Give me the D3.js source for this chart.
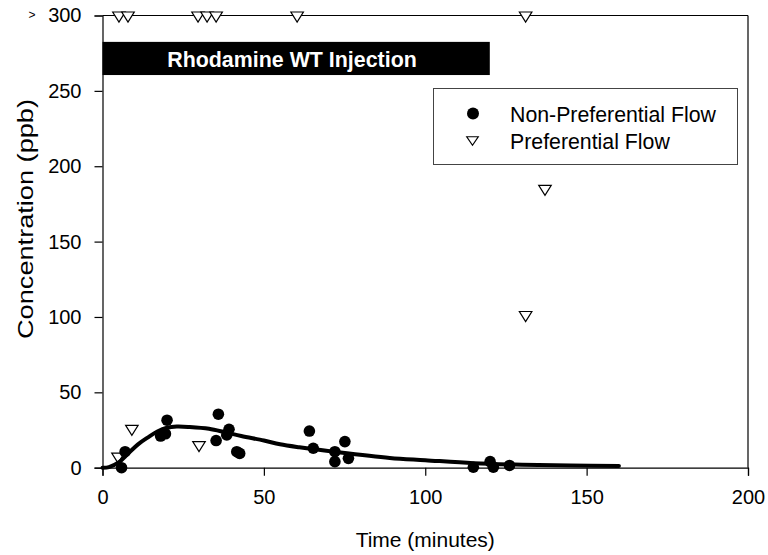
<!DOCTYPE html>
<html>
<head>
<meta charset="utf-8">
<script src="https://cdn.jsdelivr.net/npm/d3@7"></script>
<style>
  html, body { margin: 0; padding: 0; background: #fff; }
  svg { display: block; font-family: "Liberation Sans", Arial, sans-serif; }
</style>
</head>
<body>
<svg id="chart" width="768" height="555"></svg>
<script>
// ---- Data ----
const nonPrefTime = [5.9, 7.0, 18.0, 19.5, 20.0, 35.2, 35.9, 38.5, 39.2, 41.6, 42.5,
                     64.1, 65.3, 72.0, 72.0, 75.1, 76.2, 114.9, 120.1, 121.1, 126.1];
const nonPrefConc = [0.0, 10.6, 21.0, 22.5, 31.5, 18.0, 35.5, 21.7, 25.5, 10.6, 9.5,
                     24.3, 12.9, 10.6, 4.0, 17.3, 6.2, 0.3, 4.0, 0.3, 1.5];

const prefTime = [5.1, 7.9, 29.6, 32.4, 35.2, 60.3, 131.1, 131.1, 137.1, 9.1, 29.9, 4.8];
const prefConc = [299, 299, 299, 299, 299, 299, 299, 100.3, 184, 24.8, 14, 6.4];

// fitted curve
const fitTime = [0, 2, 5, 8, 11, 14, 17, 20, 23, 27, 33, 38, 43, 50, 55, 61, 72, 89, 100, 115, 130, 145, 160];
const fitConc = [0, 0.4, 3.5, 9.5, 15.5, 20, 24, 26.5, 27.3, 27, 25.8, 23.5, 21, 18, 15.5, 13.5, 10.5, 6.5, 5, 3, 2, 1.5, 1.2];

const xTicks = [0, 50, 100, 150, 200];
const yTicks = [0, 50, 100, 150, 200, 250, 300];

const injection = { start: 0, end: 120, low: 260.5, high: 282.5, label: "Rhodamine WT Injection" };
const legendLabels = ["Non-Preferential Flow", "Preferential Flow"];

// ---- Layout ----
const svg = d3.select("#chart");
const x = d3.scaleLinear().domain([0, 200]).range([102.5, 748]);
const y = d3.scaleLinear().domain([0, 300]).range([467.7, 15.5]);

const FONT = "'Liberation Sans', Arial, sans-serif";

// frame (top & right)
svg.append("line").attr("x1", x(0)).attr("x2", x(200)).attr("y1", y(300)).attr("y2", y(300))
  .attr("stroke", "#000").attr("stroke-width", 1.2);
svg.append("line").attr("x1", x(200)).attr("x2", x(200)).attr("y1", y(300)).attr("y2", y(0))
  .attr("stroke", "#000").attr("stroke-width", 1.2);

// axes
const xAxis = d3.axisBottom(x).tickValues(xTicks).tickSize(8).tickPadding(14).tickFormat(d3.format("d"));
const gx = svg.append("g").attr("transform", `translate(0,${y(0)})`).call(xAxis);
gx.select(".domain").attr("stroke", "#000").attr("stroke-width", 1.2);
gx.selectAll(".tick line").attr("stroke", "#000").attr("stroke-width", 1.2);
gx.selectAll(".tick text").attr("font-size", 20).attr("font-family", FONT).attr("fill", "#000");

const yAxis = d3.axisLeft(y).tickValues(yTicks).tickSize(8).tickPadding(13).tickFormat(d3.format("d"));
const gy = svg.append("g").attr("transform", `translate(${x(0)},0)`).call(yAxis);
gy.select(".domain").attr("stroke", "#000").attr("stroke-width", 1.2);
gy.selectAll(".tick line").attr("stroke", "#000").attr("stroke-width", 1.2);
gy.selectAll(".tick text").attr("font-size", 20).attr("font-family", FONT).attr("fill", "#000");

// ">" marker before 300
svg.append("text").attr("x", 32).attr("y", y(300) + 3.5).attr("font-size", 12)
  .attr("font-family", FONT).attr("text-anchor", "middle").text(">");

// axis titles
svg.append("text").attr("x", (x(0) + x(200)) / 2).attr("y", 547)
  .attr("text-anchor", "middle").attr("font-size", 21).attr("font-family", FONT).text("Time (minutes)");
svg.append("text").attr("transform", `translate(33,${y(165)}) rotate(-90)`)
  .attr("text-anchor", "middle").attr("font-size", 22).attr("font-family", FONT)
  .attr("textLength", 240).attr("lengthAdjust", "spacingAndGlyphs")
  .text("Concentration (ppb)");

// injection bar
svg.append("rect").attr("x", x(injection.start)).attr("y", y(injection.high))
  .attr("width", x(injection.end) - x(injection.start)).attr("height", y(injection.low) - y(injection.high))
  .attr("fill", "#000");
svg.append("text").attr("x", 292).attr("y", 66.5).attr("text-anchor", "middle")
  .attr("font-size", 21.4).attr("font-weight", "bold").attr("font-family", FONT).attr("fill", "#fff")
  .text(injection.label);

// triangle path
function tri(cx, cy, w, h) {
  const p = d3.path();
  p.moveTo(cx - w / 2, cy - h / 2);
  p.lineTo(cx + w / 2, cy - h / 2);
  p.lineTo(cx, cy + h / 2);
  p.closePath();
  return p.toString();
}

// preferential flow triangles
svg.append("g").selectAll("path").data(prefTime.map((t, i) => [t, prefConc[i]])).join("path")
  .attr("d", d => tri(x(d[0]), y(d[1]), 12.5, 10))
  .attr("fill", "#fff").attr("stroke", "#000").attr("stroke-width", 1.2);

// fitted curve
const line = d3.line().x(d => x(d[0])).y(d => y(d[1])).curve(d3.curveCatmullRom.alpha(0.5));
svg.append("path").datum(fitTime.map((t, i) => [t, fitConc[i]]))
  .attr("d", line).attr("fill", "none").attr("stroke", "#000").attr("stroke-width", 4)
  .attr("stroke-linecap", "round").attr("stroke-linejoin", "round");

// non-preferential flow circles
svg.append("g").selectAll("circle").data(nonPrefTime.map((t, i) => [t, nonPrefConc[i]])).join("circle")
  .attr("cx", d => x(d[0])).attr("cy", d => y(d[1])).attr("r", 5.8).attr("fill", "#000");

// legend
const lg = svg.append("g");
lg.append("rect").attr("x", 433.5).attr("y", 88.5).attr("width", 304).attr("height", 76)
  .attr("fill", "#fff").attr("stroke", "#444").attr("stroke-width", 1);
lg.append("circle").attr("cx", 473).attr("cy", 113.5).attr("r", 6).attr("fill", "#000");
lg.append("path").attr("d", tri(472.5, 141, 11.5, 8.5)).attr("fill", "#fff").attr("stroke", "#000").attr("stroke-width", 1.2);
lg.append("text").attr("x", 510).attr("y", 121.5).attr("font-size", 21.3).attr("font-family", FONT).text(legendLabels[0]);
lg.append("text").attr("x", 510).attr("y", 148.5).attr("font-size", 21.3).attr("font-family", FONT).text(legendLabels[1]);
</script>
</body>
</html>
